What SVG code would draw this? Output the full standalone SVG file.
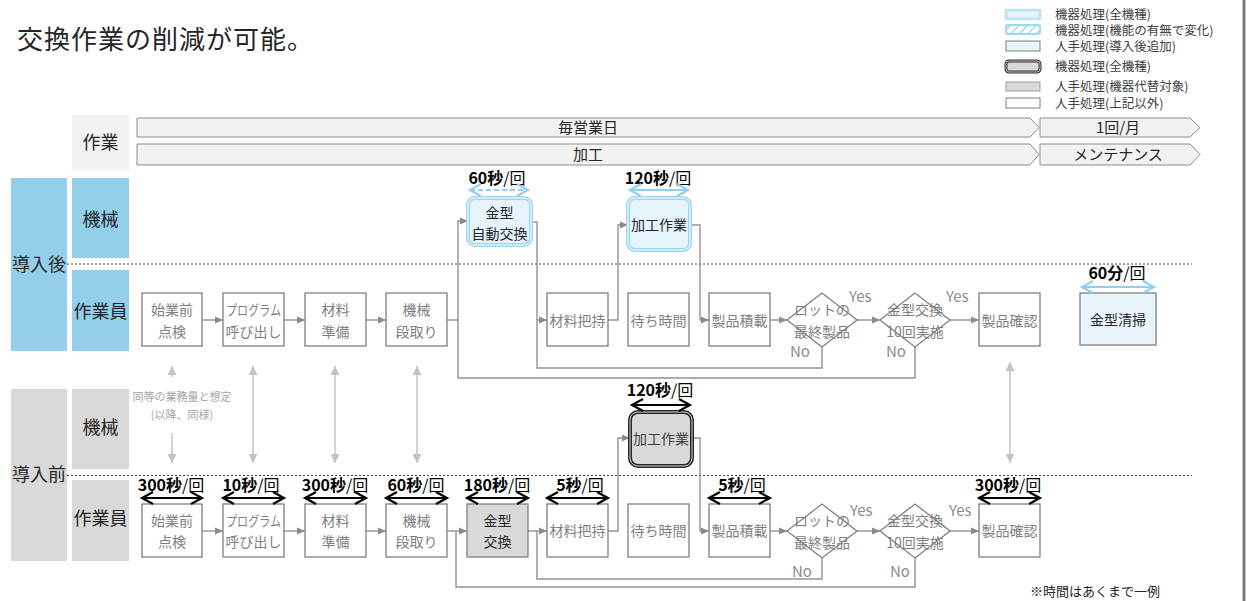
<svg xmlns="http://www.w3.org/2000/svg" width="1252" height="601" viewBox="0 0 1252 601">
<style>
text{font-family:"Noto Sans CJK JP","Noto Sans",sans-serif;}
.t{font-size:14px;fill:#7f7f7f;text-anchor:middle;}
.tk{font-size:14px;fill:#262626;text-anchor:middle;}
.lab{font-size:18px;fill:#262626;text-anchor:middle;}
.hd{font-size:15px;fill:#262626;text-anchor:middle;}
.tm{font-size:16px;fill:#000;text-anchor:middle;}
.yn{font-size:15px;fill:#8c8c8c;}
.lg{font-size:12.5px;fill:#404040;}
.box{fill:#fff;stroke:#7f7f7f;stroke-width:1.3;}
.grey{fill:#d9d9d9;stroke:#7f7f7f;stroke-width:1.3;}
.lb{fill:#e8f4fb;stroke:#7f7f7f;stroke-width:1.3;}
.c{fill:none;stroke:#939393;stroke-width:1.4;}
.ca{fill:none;stroke:#939393;stroke-width:1.4;marker-end:url(#ah);}
.v{fill:none;stroke:#c3c3c3;stroke-width:1.5;}
.dk{fill:none;stroke:#000;stroke-width:2;marker-start:url(#chk);marker-end:url(#chk);}
.bl{fill:none;stroke:#8fd0f0;stroke-width:2;marker-start:url(#chb);marker-end:url(#chb);}
.dash{fill:none;stroke:#404040;stroke-width:1;stroke-dasharray:2,2;}
</style>
<defs>
<marker id="ah" markerUnits="userSpaceOnUse" markerWidth="8" markerHeight="8" refX="8" refY="4" orient="auto"><path d="M0,0.5 L8,4 L0,7.5 z" fill="#8a8a8a"/></marker>
<marker id="va" markerUnits="userSpaceOnUse" markerWidth="9" markerHeight="9" refX="9" refY="4.5" orient="auto-start-reverse"><path d="M0,0 L9,4.5 L0,9 z" fill="#c3c3c3"/></marker>
<marker id="chk" markerUnits="userSpaceOnUse" markerWidth="14" markerHeight="16" refX="12" refY="7" orient="auto-start-reverse" overflow="visible"><path d="M1,1 L12,7 L1,13" fill="none" stroke="#000" stroke-width="2.2"/></marker>
<marker id="chb" markerUnits="userSpaceOnUse" markerWidth="14" markerHeight="16" refX="12" refY="7" orient="auto-start-reverse" overflow="visible"><path d="M1,1 L12,7 L1,13" fill="none" stroke="#8fd0f0" stroke-width="2.2"/></marker>
<pattern id="hatch" patternUnits="userSpaceOnUse" width="6" height="6" patternTransform="rotate(45)"><rect width="6" height="6" fill="#fff"/><line x1="0" y1="0" x2="0" y2="6" stroke="#8fd0f0" stroke-width="2.5"/></pattern>
</defs>

<rect width="1252" height="601" fill="#fff"/>
<line x1="1244" y1="0" x2="1244" y2="601" stroke="#7a7a7a" stroke-width="3"/>

<text x="17" y="49" style="font-size:26px;fill:#262626;letter-spacing:1px;">交換作業の削減が可能。</text>

<g id="legend">
<rect x="1006" y="10" width="34" height="9" rx="2" fill="#e5f3fb" stroke="#9ed5f0" stroke-width="2.6"/>
<rect x="1006" y="10" width="34" height="9" rx="2" fill="none" stroke="#fff" stroke-width="0.7"/>
<text class="lg" x="1055" y="19">機器処理(全機種)</text>
<rect x="1006" y="25" width="34" height="9" rx="2" fill="url(#hatch)" stroke="#9ed5f0" stroke-width="2"/>
<text class="lg" x="1055" y="35">機器処理(機能の有無で変化)</text>
<rect x="1006" y="41" width="34" height="10" fill="#e8f4fb" stroke="#7f7f7f" stroke-width="1"/>
<text class="lg" x="1055" y="51">人手処理(導入後追加)</text>
<rect x="1006" y="61" width="34" height="11" rx="3" fill="#d9d9d9" stroke="#333" stroke-width="3"/>
<rect x="1006" y="61" width="34" height="11" rx="3" fill="none" stroke="#d9d9d9" stroke-width="0.8"/>
<text class="lg" x="1055" y="71">機器処理(全機種)</text>
<rect x="1006" y="82" width="34" height="9" fill="#d9d9d9" stroke="#9a9a9a" stroke-width="1"/>
<text class="lg" x="1055" y="91">人手処理(機器代替対象)</text>
<rect x="1006" y="98" width="34" height="10" fill="#fff" stroke="#7f7f7f" stroke-width="1"/>
<text class="lg" x="1055" y="108">人手処理(上記以外)</text>
</g>

<g id="header">
<rect x="72" y="115" width="57" height="55" fill="#f2f2f2"/>
<text class="lab" x="100.5" y="149">作業</text>
<polygon points="137,118 1030,118 1039,127.5 1030,137 137,137" fill="#f2f2f2" stroke="#8c8c8c" stroke-width="1"/>
<polygon points="1040,118 1190,118 1200,127.5 1190,137 1040,137" fill="#f2f2f2" stroke="#8c8c8c" stroke-width="1"/>
<polygon points="137,144 1030,144 1039,154.5 1030,165 137,165" fill="#f2f2f2" stroke="#8c8c8c" stroke-width="1"/>
<polygon points="1040,144 1190,144 1200,154.5 1190,165 1040,165" fill="#f2f2f2" stroke="#8c8c8c" stroke-width="1"/>
<text class="hd" x="588" y="133">毎営業日</text>
<text class="hd" x="588" y="160">加工</text>
<text class="hd" x="1118" y="133">1回/月</text>
<text class="hd" x="1118" y="160">メンテナンス</text>
</g>

<g id="lanes">
<rect x="11" y="178" width="56" height="173" fill="#93cfeb"/>
<rect x="72" y="178" width="57" height="80" fill="#93cfeb"/>
<rect x="72" y="270" width="57" height="81" fill="#93cfeb"/>
<text class="lab" x="39" y="271">導入後</text>
<text class="lab" x="100.5" y="226">機械</text>
<text class="lab" x="100.5" y="318">作業員</text>
<rect x="11" y="389" width="56" height="172" fill="#d9d9d9"/>
<rect x="72" y="389" width="57" height="80" fill="#d9d9d9"/>
<rect x="72" y="480" width="57" height="81" fill="#d9d9d9"/>
<text class="lab" x="39" y="481">導入前</text>
<text class="lab" x="100.5" y="434">機械</text>
<text class="lab" x="100.5" y="525">作業員</text>
<line class="dash" x1="67" y1="264" x2="1192" y2="264"/>
<line class="dash" x1="67" y1="475.5" x2="1192" y2="475.5"/>
</g>

<g id="connectors">
<path class="ca" d="M202,320 H223"/>
<path class="ca" d="M284,320 H305"/>
<path class="ca" d="M366,320 H386"/>
<path class="c" d="M447,320 H458"/>
<path class="ca" d="M915,347 V378 H458 V221 H468"/>
<path class="ca" d="M822,347 V368 H537 V320 H547"/>
<path class="c" d="M531,222 H537 V320"/>
<path class="ca" d="M608,320 H618 V225 H628"/>
<path class="ca" d="M690,225 H700 V320 H709"/>
<path class="ca" d="M770,320 H787"/>
<path class="ca" d="M857,320 H880"/>
<path class="ca" d="M950,320 H979"/>
<path class="ca" d="M202,531 H223"/>
<path class="ca" d="M284,531 H305"/>
<path class="ca" d="M366,531 H386"/>
<path class="ca" d="M447,531 H467"/>
<path class="c" d="M915,558 V587 H456 V531"/>
<path class="ca" d="M528,531 H547"/>
<path class="c" d="M822,558 V579 H537 V531"/>
<path class="ca" d="M608,531 H618 V438 H630"/>
<path class="ca" d="M692,438 H700 V531 H709"/>
<path class="ca" d="M770,531 H787"/>
<path class="ca" d="M857,531 H880"/>
<path class="ca" d="M950,531 H979"/>
<path class="v" d="M172,377 V366" marker-end="url(#va)"/>
<path class="v" d="M172,433 V463" marker-end="url(#va)"/>
<path class="v" d="M253,366 V463" marker-start="url(#va)" marker-end="url(#va)"/>
<path class="v" d="M335,366 V463" marker-start="url(#va)" marker-end="url(#va)"/>
<path class="v" d="M417,366 V463" marker-start="url(#va)" marker-end="url(#va)"/>
<path class="v" d="M1010,362 V463" marker-start="url(#va)" marker-end="url(#va)"/>
<text x="182" y="401" style="font-size:11px;fill:#a6a6a6;text-anchor:middle;">同等の業務量と想定</text>
<text x="182" y="419" style="font-size:11px;fill:#a6a6a6;text-anchor:middle;">(以降、同様)</text>
<text class="yn" x="849" y="302">Yes</text>
<text class="yn" x="946" y="302">Yes</text>
<text class="yn" x="790" y="357">No</text>
<text class="yn" x="886" y="357">No</text>
<text class="yn" x="850" y="516">Yes</text>
<text class="yn" x="949" y="516">Yes</text>
<text class="yn" x="792" y="577">No</text>
<text class="yn" x="890" y="577">No</text>
</g>

<g id="a-kanagata-auto">
<rect x="468" y="198" width="63" height="47" rx="7" fill="#e5f3fb" stroke="#9ed5f0" stroke-width="4"/>
<rect x="468" y="198" width="63" height="47" rx="7" fill="none" stroke="#fff" stroke-width="1"/>
<text class="tk" x="499.5" y="218">金型</text>
<text class="tk" x="499.5" y="239">自動交換</text>
<text class="tm" x="497" y="184"><tspan font-weight="bold">60秒</tspan>/回</text>
<path class="bl" d="M470,190 H528" stroke-dasharray="5,3"/>
</g>
<g id="a-kako">
<rect x="628" y="198" width="62" height="52" rx="7" fill="#e5f3fb" stroke="#9ed5f0" stroke-width="4"/>
<rect x="628" y="198" width="62" height="52" rx="7" fill="none" stroke="#fff" stroke-width="1"/>
<text class="tk" x="659" y="230">加工作業</text>
<text class="tm" x="658" y="184"><tspan font-weight="bold">120秒</tspan>/回</text>
<path class="bl" d="M630,190 H688"/>
</g>

<g id="a-shigyo"><rect class="box" x="142" y="293" width="60" height="53"/><text class="t" x="172" y="315">始業前</text><text class="t" x="172" y="337">点検</text></g>
<g id="a-program"><rect class="box" x="223" y="293" width="61" height="53"/><text class="t" x="253.5" y="315" textLength="55" lengthAdjust="spacingAndGlyphs">プログラム</text><text class="t" x="253.5" y="337">呼び出し</text></g>
<g id="a-zairyo"><rect class="box" x="305" y="293" width="61" height="53"/><text class="t" x="335.5" y="315">材料</text><text class="t" x="335.5" y="337">準備</text></g>
<g id="a-dandori"><rect class="box" x="386" y="293" width="61" height="53"/><text class="t" x="416.5" y="315">機械</text><text class="t" x="416.5" y="337">段取り</text></g>
<g id="a-haji"><rect class="box" x="547" y="293" width="61" height="53"/><text class="t" x="577.5" y="326">材料把持</text></g>
<g id="a-machi"><rect class="box" x="628" y="293" width="61" height="53"/><text class="t" x="658.5" y="326">待ち時間</text></g>
<g id="a-sekisai"><rect class="box" x="709" y="293" width="61" height="53"/><text class="t" x="739.5" y="326">製品積載</text></g>
<g id="a-lot"><polygon class="box" points="787,320 822,293 857,320 822,347"/><text class="t" x="822" y="315">ロットの</text><text class="t" x="822" y="337">最終製品</text></g>
<g id="a-kaisu"><polygon class="box" points="880,320 915,293 950,320 915,347"/><text class="t" x="915" y="315">金型交換</text><text class="t" x="915" y="337">10回実施</text></g>
<g id="a-kakunin"><rect class="box" x="979" y="293" width="61" height="53"/><text class="t" x="1009.5" y="326">製品確認</text></g>
<g id="a-seiso"><rect class="lb" x="1080" y="293" width="76" height="52"/><text class="tk" x="1118" y="325">金型清掃</text>
<text class="tm" x="1117" y="279"><tspan font-weight="bold">60分</tspan>/回</text>
<path class="bl" d="M1082,287 H1154"/></g>

<g id="b-kako">
<rect x="630" y="412" width="62" height="54" rx="8" fill="#d9d9d9" stroke="#262626" stroke-width="4"/>
<rect x="630" y="412" width="62" height="54" rx="8" fill="none" stroke="#d9d9d9" stroke-width="1"/>
<text x="661" y="444" style="font-size:14px;fill:#404040;text-anchor:middle;">加工作業</text>
<text class="tm" x="660" y="396"><tspan font-weight="bold">120秒</tspan>/回</text>
<path class="dk" d="M632,405 H690"/>
</g>

<g id="b-shigyo"><rect class="box" x="142" y="504" width="60" height="53"/><text class="t" x="172" y="526">始業前</text><text class="t" x="172" y="547">点検</text>
<text class="tm" x="171" y="491"><tspan font-weight="bold">300秒</tspan>/回</text><path class="dk" d="M142,498 H202"/></g>
<g id="b-program"><rect class="box" x="223" y="504" width="61" height="53"/><text class="t" x="253.5" y="526" textLength="55" lengthAdjust="spacingAndGlyphs">プログラム</text><text class="t" x="253.5" y="547">呼び出し</text>
<text class="tm" x="251" y="491"><tspan font-weight="bold">10秒</tspan>/回</text><path class="dk" d="M223,498 H284"/></g>
<g id="b-zairyo"><rect class="box" x="305" y="504" width="61" height="53"/><text class="t" x="335.5" y="526">材料</text><text class="t" x="335.5" y="547">準備</text>
<text class="tm" x="335" y="491"><tspan font-weight="bold">300秒</tspan>/回</text><path class="dk" d="M305,498 H366"/></g>
<g id="b-dandori"><rect class="box" x="386" y="504" width="61" height="53"/><text class="t" x="416.5" y="526">機械</text><text class="t" x="416.5" y="547">段取り</text>
<text class="tm" x="416" y="491"><tspan font-weight="bold">60秒</tspan>/回</text><path class="dk" d="M386,498 H447"/></g>
<g id="b-kanagata"><rect class="grey" x="467" y="504" width="61" height="53"/><text class="tk" x="497.5" y="526">金型</text><text class="tk" x="497.5" y="547">交換</text>
<text class="tm" x="497" y="491"><tspan font-weight="bold">180秒</tspan>/回</text><path class="dk" d="M467,498 H528"/></g>
<g id="b-haji"><rect class="box" x="547" y="504" width="61" height="53"/><text class="t" x="577.5" y="536">材料把持</text>
<text class="tm" x="580" y="491"><tspan font-weight="bold">5秒</tspan>/回</text><path class="dk" d="M547,498 H608"/></g>
<g id="b-machi"><rect class="box" x="628" y="504" width="61" height="53"/><text class="t" x="658.5" y="536">待ち時間</text></g>
<g id="b-sekisai"><rect class="box" x="709" y="504" width="61" height="53"/><text class="t" x="739.5" y="536">製品積載</text>
<text class="tm" x="742" y="491"><tspan font-weight="bold">5秒</tspan>/回</text><path class="dk" d="M709,498 H770"/></g>
<g id="b-lot"><polygon class="box" points="787,531 822,504 857,531 822,558"/><text class="t" x="822" y="526">ロットの</text><text class="t" x="822" y="548">最終製品</text></g>
<g id="b-kaisu"><polygon class="box" points="880,531 915,504 950,531 915,558"/><text class="t" x="915" y="526">金型交換</text><text class="t" x="915" y="548">10回実施</text></g>
<g id="b-kakunin"><rect class="box" x="979" y="504" width="61" height="53"/><text class="t" x="1009.5" y="536">製品確認</text>
<text class="tm" x="1008" y="491"><tspan font-weight="bold">300秒</tspan>/回</text><path class="dk" d="M979,498 H1040"/></g>

<text x="1030" y="596" style="font-size:13px;fill:#262626;">※時間はあくまで一例</text>
</svg>
